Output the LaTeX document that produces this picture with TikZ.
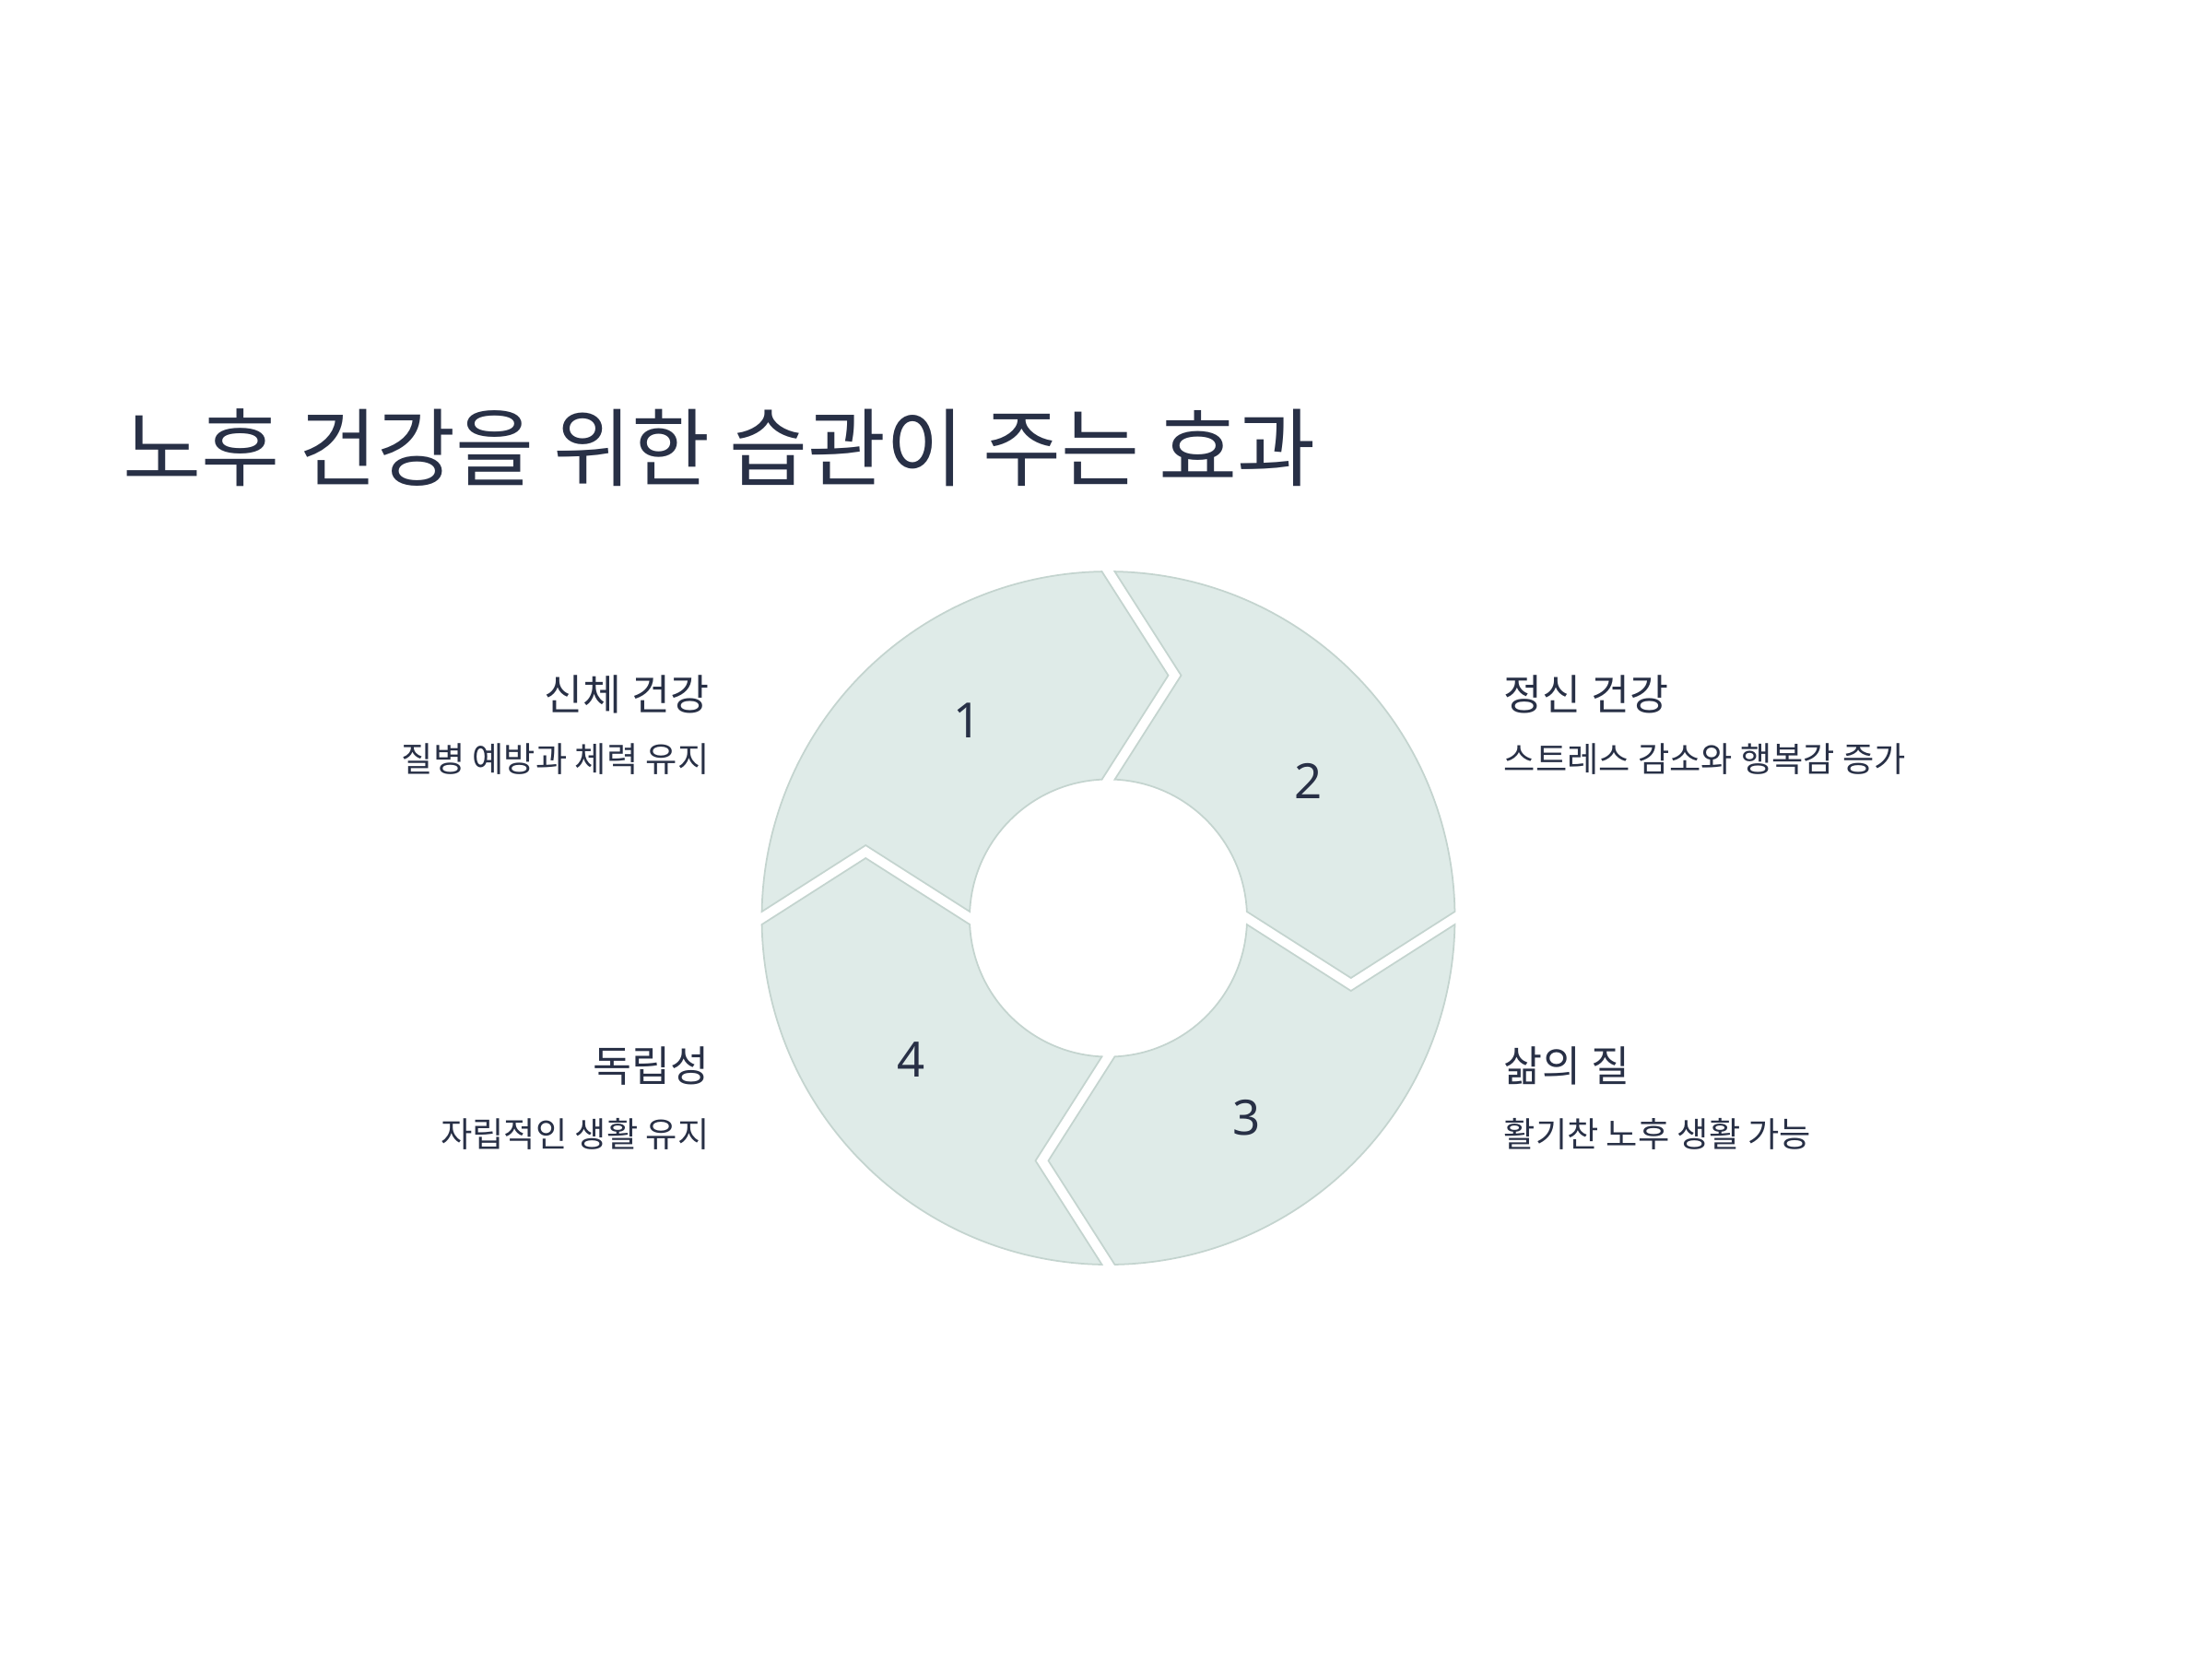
\documentclass[tikz,border=0pt]{standalone}
\usepackage{fontspec}
\setmainfont{Noto Sans CJK KR}
\newfontfamily\digitfont{Noto Sans}
\definecolor{ink}{HTML}{283046}
\definecolor{segfill}{HTML}{DFEBE8}
\definecolor{segline}{HTML}{C4D4CF}

\begin{document}
\begin{tikzpicture}[
        seg/.style={draw=segline, line width=0.5pt, fill=segfill},
        num/.style={text=ink, inner sep=0pt, font=\digitfont\fontsize{15}{18}\selectfont},
        head/.style={text=ink, inner sep=0pt, font=\fontsize{13}{15}\selectfont},
        sub/.style={text=ink, inner sep=0pt, font=\fontsize{10.6}{12}\selectfont}]

        \useasboundingbox[fill=white] (0,0) rectangle (24,-18);

        \node[text=ink, inner sep=0pt, anchor=base west, font=\fontsize{26.3}{30}\selectfont] (title) at (1.33,-5.2) {노후 건강을 위한 습관이 주는 효과};

        \coordinate (c) at (12.025,-9.96);

        % one arrow piece, turned for each quadrant
        \begin{scope}[shift={(c)}]
        \draw[seg, rotate=90] (88.933:3.76) arc[start angle=88.933, end angle=1.067, radius=3.76] -- (2.6325,-0.65) -- (2.666:1.505) arc[start angle=2.666, end angle=87.334, radius=1.505] -- (0.79,2.6325) -- cycle;
        \draw[seg] (88.933:3.76) arc[start angle=88.933, end angle=1.067, radius=3.76] -- (2.6325,-0.65) -- (2.666:1.505) arc[start angle=2.666, end angle=87.334, radius=1.505] -- (0.79,2.6325) -- cycle;
        \draw[seg, rotate=-90] (88.933:3.76) arc[start angle=88.933, end angle=1.067, radius=3.76] -- (2.6325,-0.65) -- (2.666:1.505) arc[start angle=2.666, end angle=87.334, radius=1.505] -- (0.79,2.6325) -- cycle;
        \draw[seg, rotate=180] (88.933:3.76) arc[start angle=88.933, end angle=1.067, radius=3.76] -- (2.6325,-0.65) -- (2.666:1.505) arc[start angle=2.666, end angle=87.334, radius=1.505] -- (0.79,2.6325) -- cycle;

        \node[num] (n1) at (125.4:2.635) {1};
        \node[num] (n2) at (34.4:2.635) {2};
        \node[num] (n3) at (-55.4:2.635) {3};
        \node[num] (n4) at (-144.4:2.635) {4};
        \end{scope}

        \node[head, anchor=base east] (h1) at (7.70,-7.70) {신체 건강};
        \node[sub, anchor=base east] (s1) at (7.70,-8.37) {질병 예방과 체력 유지};

        \node[head, anchor=base west] (h2) at (16.31,-7.70) {정신 건강};
        \node[sub, anchor=base west] (s2) at (16.31,-8.37) {스트레스 감소와 행복감 증가};

        \node[head, anchor=base west] (h3) at (16.31,-11.73) {삶의 질};
        \node[sub, anchor=base west] (s3) at (16.31,-12.44) {활기찬 노후 생활 가능};

        \node[head, anchor=base east] (h4) at (7.70,-11.73) {독립성};
        \node[sub, anchor=base east] (s4) at (7.70,-12.44) {자립적인 생활 유지};

    \end{tikzpicture}
\end{document}
